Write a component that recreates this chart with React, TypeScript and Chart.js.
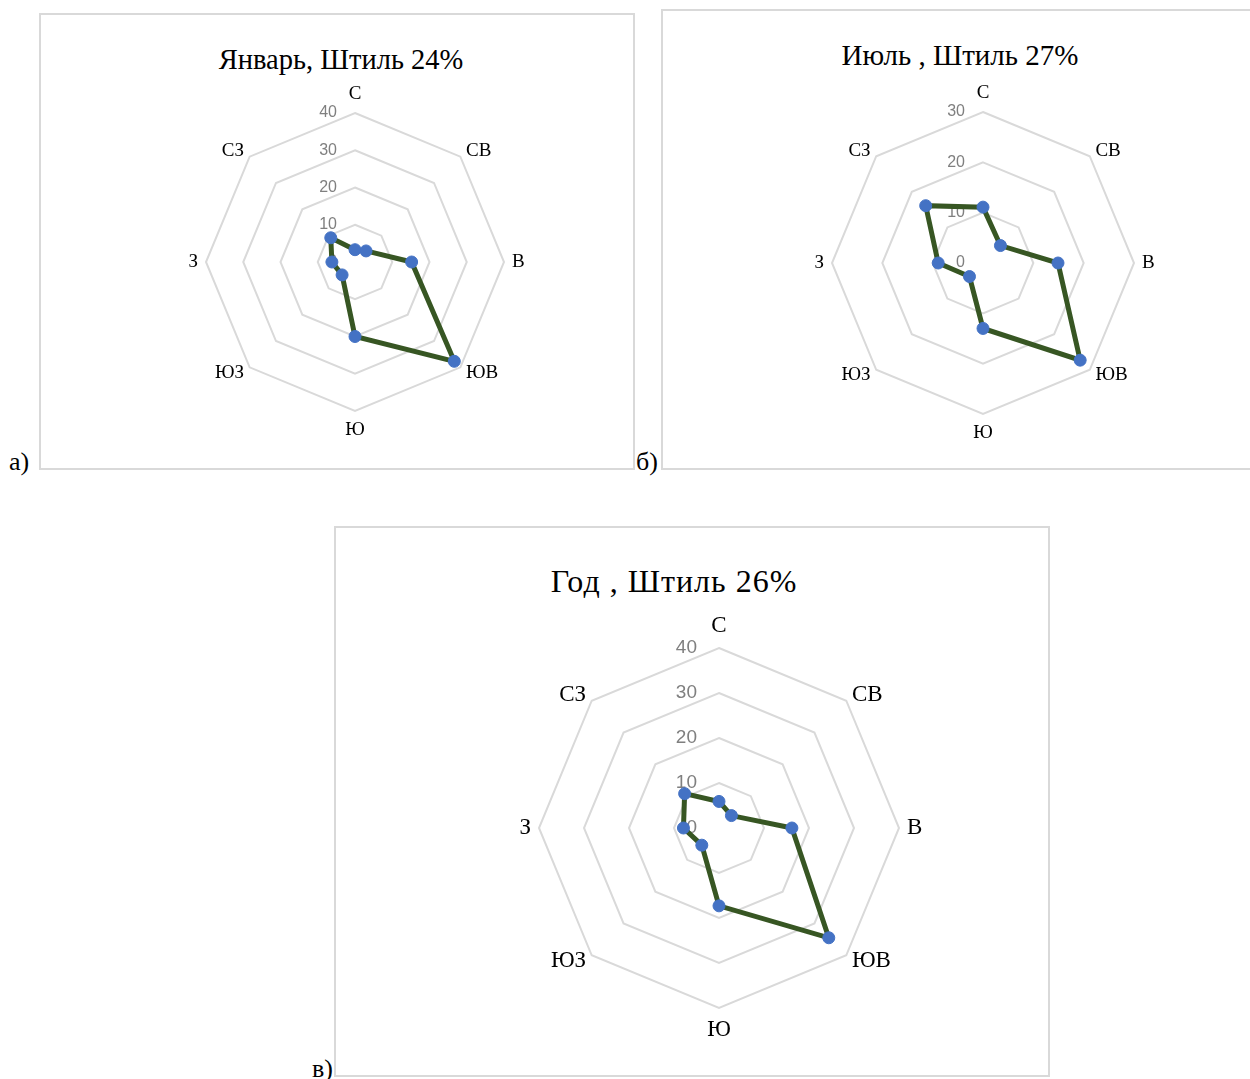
import React, { useEffect, useRef } from "react";
import { Chart, registerables } from "chart.js";

Chart.register(...registerables);

const directions = ["С", "СВ", "В", "ЮВ", "Ю", "ЮЗ", "З", "СЗ"];

const januaryValues = [3.3, 4.2, 15.2, 37.7, 20.0, 4.9, 6.2, 9.2];
const julyValues = [11.1, 4.9, 14.9, 27.3, 13.0, 3.8, 8.9, 16.1];
const yearValues = [5.9, 3.9, 16.2, 34.5, 17.3, 5.4, 7.9, 10.8];

const januaryTicks = [0, 10, 20, 30, 40];
const julyTicks = [0, 10, 20, 30];
const yearTicks = [0, 10, 20, 30, 40];

const januaryTitle = "Январь, Штиль 24%";
const julyTitle = "Июль , Штиль 27%";
const yearTitle = "Год , Штиль 26%";

const serif = '"Liberation Serif", "Times New Roman", serif';

// Draws tick labels to the left of the vertical axis and the direction labels
// around the outer ring, positioned through the radial scale itself.
const labelsPlugin = {
  id: "roseLabels",
  beforeDatasetsDraw(chart: any, _args: any, opts: any) {
    const scale = chart.scales.r;
    const ctx = chart.ctx;
    ctx.save();
    ctx.font = `${opts.tickSize}px "Liberation Sans", Arial, sans-serif`;
    ctx.fillStyle = "#7f7f7f";
    ctx.textAlign = "right";
    ctx.textBaseline = "middle";
    for (const v of opts.ticks) {
      const d = scale.getDistanceFromCenterForValue(v);
      ctx.fillText(String(v), scale.xCenter - opts.tickOffset, scale.yCenter - d);
    }
    ctx.font = `${opts.labelSize}px ${serif}`;
    ctx.fillStyle = "#000000";
    const labels: string[] = chart.data.labels;
    labels.forEach((label, i) => {
      const pos = scale.getPointPosition(i, scale.drawingArea + opts.labelPad);
      const a = scale.getIndexAngle(i) - Math.PI / 2;
      const c = Math.cos(a);
      const s = Math.sin(a);
      let x = pos.x;
      let y = pos.y;
      if (Math.abs(c) < 0.01) {
        ctx.textAlign = "center";
        y += Math.sign(s) * opts.labelSize * 0.6;
      } else {
        ctx.textAlign = c > 0 ? "left" : "right";
      }
      ctx.textBaseline = "middle";
      ctx.fillText(label, x, y);
    });
    ctx.restore();
  },
};

type RadarProps = {
  values: number[];
  ticks: number[];
  radius: number;
  cx: number;
  cy: number;
  labelSize: number;
  labelPad: number;
  tickSize: number;
  tickOffset: number;
};

const PAD = 60;

function Radar(p: RadarProps) {
  const ref = useRef<HTMLCanvasElement | null>(null);
  const size = p.radius * 2 + PAD * 2;
  useEffect(() => {
    if (!ref.current) return;
    const max = p.ticks[p.ticks.length - 1];
    const chart = new Chart(ref.current, {
      type: "radar",
      data: {
        labels: directions,
        datasets: [
          {
            data: p.values,
            borderColor: "#375623",
            borderWidth: 5,
            backgroundColor: "rgba(0,0,0,0)",
            fill: false,
            tension: 0,
            pointRadius: 6,
            pointBackgroundColor: "#4472c4",
            pointBorderColor: "#4472c4",
            pointBorderWidth: 1,
          },
        ],
      },
      options: {
        animation: false,
        responsive: false,
        events: [],
        layout: { padding: PAD },
        plugins: {
          legend: { display: false },
          tooltip: { enabled: false },
          roseLabels: {
            ticks: p.ticks,
            tickSize: p.tickSize,
            tickOffset: p.tickOffset,
            labelSize: p.labelSize,
            labelPad: p.labelPad,
          },
        } as any,
        scales: {
          r: {
            min: 0,
            max,
            ticks: { display: false, stepSize: 10 },
            angleLines: { display: false },
            grid: { color: "#d9d9d9", lineWidth: 2, circular: false },
            pointLabels: { display: false },
          },
        },
      },
      plugins: [labelsPlugin],
    });
    return () => chart.destroy();
  }, []);
  return (
    <canvas
      ref={ref}
      width={size}
      height={size}
      style={{
        position: "absolute",
        left: p.cx - PAD - p.radius,
        top: p.cy - PAD - p.radius,
        width: size,
        height: size,
      }}
    />
  );
}

function Text(props: {
  text: string;
  cx?: number;
  left?: number;
  baseline: number;
  size: number;
  spacing?: number;
}) {
  const { text, cx, left, baseline, size, spacing } = props;
  const top = baseline - 0.8375 * size;
  const style: React.CSSProperties = {
    position: "absolute",
    top,
    fontFamily: serif,
    fontSize: size,
    lineHeight: 1,
    color: "#000",
    whiteSpace: "nowrap",
    letterSpacing: spacing ?? 0,
  };
  if (cx !== undefined) {
    style.left = cx - 400;
    style.width = 800;
    style.textAlign = "center";
  } else {
    style.left = left;
  }
  return <div style={style}>{text}</div>;
}

const border = "2px solid #d9d9d9";

export default function App() {
  return (
    <div
      style={{
        position: "absolute",
        left: 0,
        top: 0,
        width: 1250,
        height: 1079,
        overflow: "hidden",
        background: "#fff",
      }}
    >
      <div style={{ position: "absolute", left: 39, top: 13, width: 596, height: 457, border, boxSizing: "border-box" }} />
      <div style={{ position: "absolute", left: 661, top: 9, width: 700, height: 461, border, boxSizing: "border-box" }} />
      <div style={{ position: "absolute", left: 334, top: 526, width: 716, height: 551, border, boxSizing: "border-box" }} />

      <Text text={januaryTitle} cx={341} baseline={70} size={28.5} />
      <Text text={julyTitle} cx={960} baseline={65} size={29} />
      <Text text={yearTitle} cx={674} baseline={592} size={32} spacing={1} />

      <Text text="а)" left={9} baseline={471} size={26} />
      <Text text="б)" left={636} baseline={471} size={26} />
      <Text text="в)" left={312} baseline={1078} size={26} />

      <Radar values={januaryValues} ticks={januaryTicks} radius={149} cx={355} cy={262} labelSize={19} labelPad={8} tickSize={16} tickOffset={18} />
      <Radar values={julyValues} ticks={julyTicks} radius={151} cx={983} cy={263} labelSize={19} labelPad={8} tickSize={16} tickOffset={18} />
      <Radar values={yearValues} ticks={yearTicks} radius={180} cx={719} cy={828} labelSize={23} labelPad={8} tickSize={19} tickOffset={22} />
    </div>
  );
}
